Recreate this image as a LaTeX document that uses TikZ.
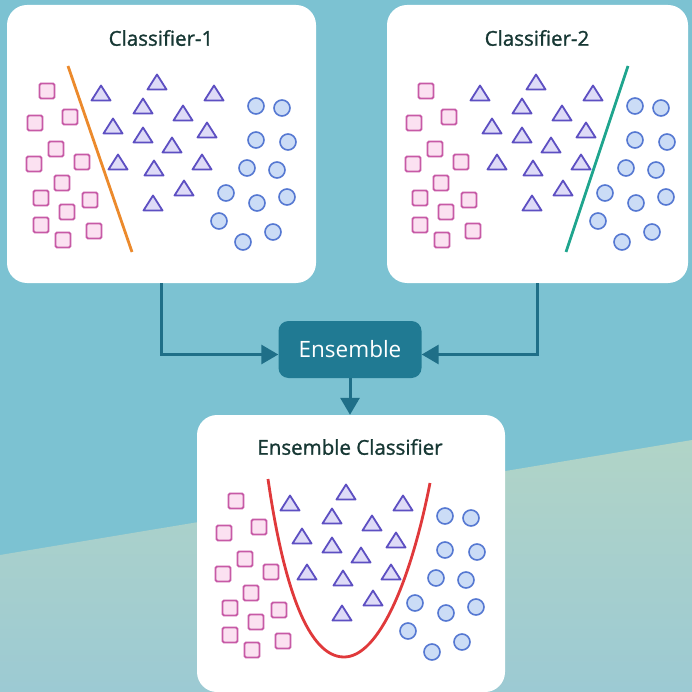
\documentclass[tikz,border=0pt]{standalone}
\usepackage{fontspec}
\setmainfont{Open Sans}
\newfontfamily\medfont[FakeBold=1.2]{Open Sans}
\usetikzlibrary{arrows.meta,positioning}

\definecolor{bgteal}{HTML}{7CC2D2}
\definecolor{bandtop}{HTML}{B1D4C7}
\definecolor{bandbot}{HTML}{9CCAD3}
\definecolor{sqfill}{HTML}{FBE1F1}
\definecolor{sqline}{HTML}{C75AA6}
\definecolor{trifill}{HTML}{DEDBF7}
\definecolor{triline}{HTML}{5D4FC2}
\definecolor{cirfill}{HTML}{CBDCF6}
\definecolor{cirline}{HTML}{5578D2}
\definecolor{titlecol}{HTML}{173834}
\definecolor{enscol}{HTML}{207A93}
\definecolor{conncol}{HTML}{1F6F88}
\definecolor{cutorange}{HTML}{EC8A2C}
\definecolor{cutgreen}{HTML}{1FA58E}
\definecolor{cutred}{HTML}{E0393B}

\newcommand{\sqpt}[2]{\draw[sqpt] (#1-7.5,#2-7.5) rectangle (#1+7.5,#2+7.5);}
\newcommand{\tript}[2]{\draw[tript] (#1,#2-8.5) -- (#1+9.5,#2+6.5) -- (#1-9.5,#2+6.5) -- cycle;}
\newcommand{\cirpt}[2]{\draw[cirpt] (#1,#2) circle (8);}
\newcommand{\scatterset}{%
\sqpt{47}{91} \sqpt{35}{123} \sqpt{70}{117} \sqpt{56}{149}
\sqpt{34}{164} \sqpt{82}{162} \sqpt{62}{183} \sqpt{41}{198}
\sqpt{90}{200} \sqpt{67}{212} \sqpt{41}{225} \sqpt{94}{231}
\sqpt{63}{240}
\tript{101}{94} \tript{157}{83} \tript{214}{94} \tript{143}{107}
\tript{183}{114} \tript{113}{127} \tript{143}{136} \tript{207}{131}
\tript{172}{146} \tript{118}{163} \tript{154}{169} \tript{202}{163}
\tript{184}{189} \tript{153}{204}
\cirpt{256}{106} \cirpt{282}{108} \cirpt{256}{140} \cirpt{288}{142}
\cirpt{247}{168} \cirpt{277}{170} \cirpt{226}{193} \cirpt{257}{203}
\cirpt{287}{197} \cirpt{219}{221} \cirpt{243}{242} \cirpt{273}{232}
}

\begin{document}
\begin{tikzpicture}[x=1pt,y=-1pt]
\tikzstyle{every node}+=[inner sep=0pt]
\tikzstyle{panel}=[fill=white, rounded corners=20pt]
\tikzstyle{ttl}=[text=titlecol, font=\medfont\fontsize{20.5}{24}\selectfont]
\tikzstyle{sqpt}=[draw=sqline, fill=sqfill, line width=1.8pt, rounded corners=1.5pt]
\tikzstyle{tript}=[draw=triline, fill=trifill, line width=1.8pt, line join=round]
\tikzstyle{cirpt}=[draw=cirline, fill=cirfill, line width=1.6pt]
\tikzstyle{cut}=[line width=2.8pt]
\tikzstyle{conn}=[draw=conncol, line width=3pt, -{Triangle[length=17pt,width=19pt]}]
\useasboundingbox (0,0) rectangle (692,692);
% background
\fill [bgteal] (0,0) rectangle (692,692);
\shade [top color=bandtop, bottom color=bandbot] (0,555) -- (692,440) -- (692,692) -- (0,692) -- cycle;
% panels
\node [panel, minimum width=309pt, minimum height=278pt] (c1) at (161.5,144) {};
\node [panel, minimum width=301pt, minimum height=278pt] (c2) at (537.5,144) {};
\node [panel, minimum width=308pt, minimum height=277pt] (c3) at (351,553.5) {};
\node [ttl] (t1) at (161,38) {Classifier-1};
\node [ttl] (t2) at (537,38) {Classifier-2};
\node [ttl] (t3) at (350,447) {Ensemble Classifier};
% points
\scatterset
\begin{scope}[shift={(379,0)}]
\scatterset
\end{scope}
\begin{scope}[shift={(189,410)}]
\scatterset
\end{scope}
% decision boundaries
\draw [cut, cutorange] (68,66) -- (132,252);
\draw [cut, cutgreen] (628,66) -- (566,252);
\draw [cut, cutred] (268,479) .. controls (284,590) and (309,657) .. (344,657) .. controls (379,657) and (411,580) .. (430,483);
% ensemble
\node [fill=enscol, rounded corners=10pt, minimum width=143pt, minimum height=57pt, text=white, font=\fontsize{22.5}{26}\selectfont] (ens) at (350,349.5) {Ensemble};
\draw [conn] (c1.south) |- ([yshift=-5pt]ens.west);
\draw [conn] (c2.south) |- ([yshift=-5pt]ens.east);
\draw [conn] (ens.south) -- (ens.south |- c3.north);
\end{tikzpicture}
\end{document}
